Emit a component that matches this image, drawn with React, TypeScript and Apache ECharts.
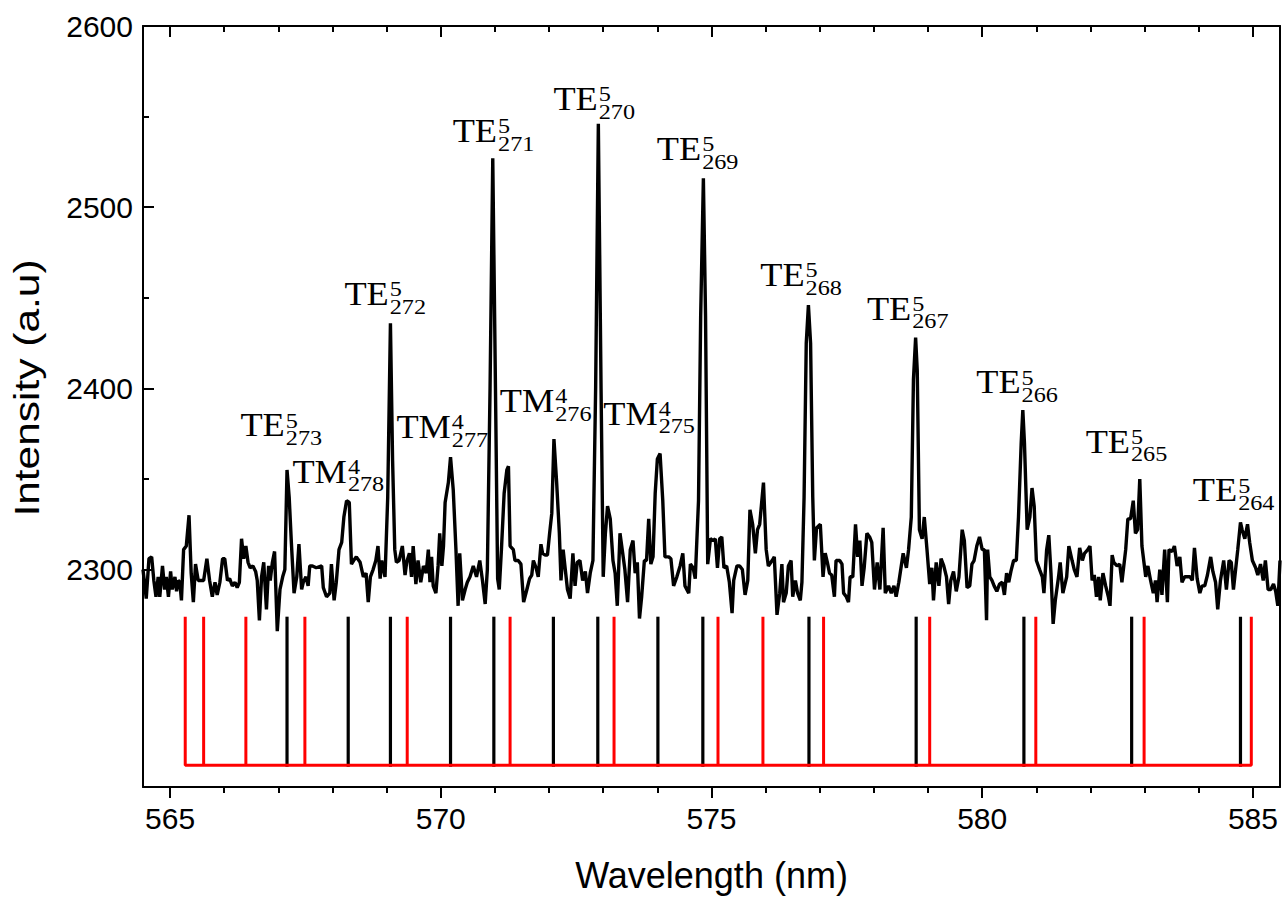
import React, { useEffect, useRef } from "react";
import * as echarts from "echarts";

// Measured spectrum: [wavelength (nm), intensity (a.u)]
const spectrum: [number, number][] = [
  [564.50,2300],[564.56,2284],[564.61,2306],[564.66,2307],[564.70,2294],[564.74,2285],[564.78,2296],[564.81,2285],[564.86,2302],[564.90,2289],
  [564.93,2296],[564.97,2285],[565.01,2299],[565.04,2289],[565.09,2296],[565.12,2288],[565.15,2294],[565.18,2293],[565.21,2283],[565.25,2311],
  [565.30,2313],[565.35,2330],[565.39,2298],[565.43,2282],[565.47,2303],[565.52,2294],[565.58,2294],[565.62,2294],[565.68,2306],[565.73,2294],
  [565.78,2285],[565.83,2293],[565.87,2286],[565.92,2293],[565.97,2306],[566.01,2306],[566.06,2294],[566.10,2295],[566.15,2291],[566.20,2293],
  [566.24,2290],[566.28,2293],[566.32,2317],[566.36,2306],[566.40,2313],[566.44,2304],[566.48,2301],[566.53,2302],[566.58,2299],[566.61,2294],
  [566.65,2272],[566.69,2296],[566.73,2304],[566.78,2278],[566.82,2302],[566.85,2294],[566.89,2304],[566.93,2310],[566.98,2266],[567.03,2289],
  [567.08,2296],[567.12,2300],[567.16,2355],[567.20,2340],[567.24,2315],[567.29,2287],[567.34,2296],[567.38,2314],[567.43,2289],[567.46,2293],
  [567.51,2296],[567.55,2291],[567.58,2302],[567.63,2302],[567.70,2301],[567.80,2302],[567.83,2290],[567.89,2285],[567.95,2287],[567.98,2303],
  [568.03,2283],[568.07,2293],[568.12,2311],[568.17,2315],[568.21,2329],[568.26,2338],[568.31,2337],[568.35,2303],[568.39,2305],[568.44,2307],
  [568.51,2304],[568.57,2296],[568.62,2298],[568.66,2282],[568.70,2296],[568.75,2300],[568.80,2305],[568.84,2313],[568.88,2295],[568.91,2305],
  [568.97,2296],[569.02,2340],[569.07,2436],[569.11,2360],[569.15,2311],[569.18,2304],[569.23,2305],[569.29,2313],[569.34,2297],[569.37,2304],
  [569.42,2309],[569.46,2296],[569.49,2313],[569.54,2292],[569.58,2305],[569.63,2293],[569.68,2302],[569.73,2298],[569.77,2311],[569.80,2293],
  [569.83,2307],[569.86,2291],[569.91,2287],[569.95,2302],[569.98,2320],[570.02,2302],[570.05,2313],[570.08,2337],[570.14,2348],[570.18,2362],
  [570.23,2344],[570.28,2311],[570.32,2280],[570.35,2309],[570.40,2283],[570.45,2289],[570.49,2293],[570.54,2296],[570.60,2302],[570.66,2296],
  [570.72,2305],[570.77,2294],[570.82,2281],[570.86,2300],[570.91,2400],[570.96,2527],[571.01,2400],[571.05,2295],[571.08,2289],[571.12,2311],
  [571.17,2342],[571.22,2355],[571.25,2357],[571.28,2313],[571.34,2311],[571.37,2305],[571.43,2305],[571.48,2303],[571.53,2282],[571.59,2289],
  [571.64,2295],[571.68,2297],[571.71,2305],[571.76,2301],[571.80,2296],[571.85,2314],[571.88,2309],[571.93,2308],[571.97,2308],[572.01,2320],
  [572.05,2331],[572.09,2372],[572.14,2348],[572.19,2320],[572.22,2294],[572.26,2311],[572.30,2300],[572.34,2289],[572.39,2284],[572.44,2309],
  [572.48,2291],[572.52,2304],[572.57,2305],[572.62,2294],[572.67,2299],[572.71,2287],[572.76,2298],[572.81,2305],[572.86,2400],[572.91,2546],
  [572.96,2400],[573.00,2296],[573.04,2320],[573.08,2335],[573.13,2328],[573.18,2305],[573.22,2298],[573.26,2280],[573.31,2320],[573.36,2309],
  [573.40,2300],[573.45,2282],[573.50,2311],[573.55,2316],[573.59,2298],[573.63,2304],[573.67,2273],[573.71,2285],[573.76,2305],[573.80,2305],
  [573.84,2328],[573.88,2303],[573.92,2307],[573.96,2342],[574.00,2361],[574.05,2364],[574.10,2338],[574.14,2307],[574.21,2307],[574.25,2306],
  [574.30,2291],[574.36,2296],[574.42,2302],[574.47,2309],[574.51,2291],[574.58,2287],[574.61,2303],[574.66,2301],[574.70,2295],[574.76,2338],
  [574.80,2440],[574.85,2516],[574.89,2440],[574.93,2303],[574.98,2317],[575.03,2316],[575.07,2317],[575.11,2301],[575.15,2317],[575.19,2318],
  [575.23,2301],[575.28,2302],[575.33,2293],[575.38,2276],[575.41,2294],[575.47,2302],[575.52,2302],[575.57,2300],[575.62,2286],[575.67,2294],
  [575.71,2333],[575.76,2325],[575.81,2309],[575.85,2322],[575.89,2325],[575.96,2348],[576.01,2311],[576.05,2302],[576.12,2305],[576.16,2307],
  [576.21,2275],[576.26,2287],[576.30,2303],[576.33,2282],[576.38,2287],[576.42,2302],[576.47,2305],[576.50,2285],[576.55,2294],[576.59,2287],
  [576.64,2283],[576.67,2293],[576.71,2340],[576.75,2425],[576.79,2446],[576.83,2425],[576.87,2340],[576.90,2305],[576.94,2323],[577.01,2325],
  [577.06,2296],[577.10,2309],[577.14,2304],[577.18,2298],[577.22,2297],[577.27,2285],[577.30,2305],[577.37,2305],[577.41,2303],[577.44,2287],
  [577.49,2285],[577.53,2282],[577.56,2296],[577.61,2296],[577.66,2325],[577.70,2307],[577.74,2316],[577.78,2291],[577.82,2301],[577.87,2320],
  [577.92,2318],[577.96,2315],[578.01,2289],[578.06,2304],[578.11,2289],[578.17,2323],[578.21,2287],[578.27,2291],[578.32,2287],[578.37,2291],
  [578.41,2285],[578.46,2293],[578.54,2309],[578.60,2301],[578.64,2311],[578.69,2329],[578.73,2405],[578.77,2428],[578.80,2410],[578.84,2322],
  [578.89,2317],[578.93,2329],[578.98,2311],[579.03,2292],[579.07,2301],[579.10,2283],[579.15,2304],[579.20,2291],[579.24,2306],[579.29,2302],
  [579.34,2296],[579.38,2281],[579.42,2294],[579.47,2299],[579.52,2288],[579.57,2296],[579.63,2322],[579.67,2316],[579.72,2290],[579.77,2291],
  [579.81,2303],[579.85,2305],[579.90,2313],[579.95,2318],[580.00,2311],[580.04,2311],[580.08,2272],[580.10,2311],[580.14,2296],[580.18,2294],
  [580.22,2291],[580.27,2288],[580.32,2292],[580.37,2293],[580.41,2286],[580.45,2298],[580.49,2293],[580.53,2299],[580.58,2305],[580.63,2305],
  [580.67,2329],[580.72,2370],[580.75,2388],[580.78,2370],[580.83,2322],[580.88,2329],[580.92,2345],[580.96,2335],[581.00,2305],[581.06,2300],
  [581.11,2296],[581.14,2287],[581.19,2311],[581.23,2319],[581.27,2298],[581.31,2270],[581.35,2283],[581.41,2296],[581.44,2304],[581.49,2287],
  [581.56,2296],[581.60,2313],[581.66,2305],[581.70,2300],[581.75,2296],[581.80,2312],[581.85,2305],[581.89,2309],[581.95,2311],[581.99,2313],
  [582.03,2294],[582.07,2297],[582.11,2285],[582.15,2296],[582.18,2283],[582.23,2298],[582.28,2291],[582.33,2285],[582.36,2280],[582.40,2308],
  [582.43,2304],[582.49,2302],[582.54,2303],[582.58,2293],[582.65,2311],[582.69,2328],[582.74,2328],[582.79,2338],[582.83,2320],[582.87,2322],
  [582.91,2350],[582.95,2313],[583.02,2296],[583.06,2302],[583.11,2294],[583.16,2287],[583.20,2294],[583.23,2282],[583.28,2300],[583.32,2286],
  [583.37,2311],[583.42,2282],[583.45,2311],[583.51,2310],[583.55,2313],[583.60,2302],[583.65,2307],[583.69,2293],[583.74,2296],[583.79,2296],
  [583.84,2296],[583.88,2294],[583.92,2312],[583.97,2295],[584.02,2287],[584.06,2291],[584.11,2291],[584.16,2297],[584.22,2307],[584.26,2299],
  [584.31,2293],[584.35,2278],[584.40,2294],[584.46,2305],[584.51,2289],[584.56,2305],[584.60,2304],[584.64,2289],[584.68,2300],[584.72,2311],
  [584.77,2326],[584.80,2322],[584.85,2317],[584.90,2325],[584.94,2315],[584.99,2305],[585.05,2301],[585.09,2297],[585.14,2303],[585.19,2294],
  [585.23,2305],[585.28,2289],[585.33,2289],[585.38,2292],[585.42,2288],[585.46,2280],[585.50,2305],
];

// Calculated mode positions (nm)
const blackSticks = [567.16, 568.29, 569.07, 570.18, 570.98, 572.08, 572.90, 574.01, 574.84, 576.80, 578.78, 580.77, 582.76, 584.77];
const redSticks = [565.28, 565.62, 566.40, 567.49, 569.38, 571.28, 573.20, 575.12, 575.95, 577.07, 579.03, 580.99, 582.99, 584.97];
const stickBase = 2192;
const stickTop = 2274;

// Peak annotations (anchor: left edge of the mode name, middle of its capitals)
const labelMode = ["TE", "TM", "TE", "TM", "TE", "TM", "TE", "TM", "TE", "TE", "TE", "TE", "TE", "TE"];
const labelOrder = ["5", "4", "5", "4", "5", "4", "5", "4", "5", "5", "5", "5", "5", "5"];
const labelIndex = ["273", "278", "272", "277", "271", "276", "270", "275", "269", "268", "267", "266", "265", "264"];
const labelX = [566.30, 567.26, 568.22, 569.18, 570.22, 571.09, 572.08, 573.00, 573.99, 575.90, 577.87, 579.89, 581.91, 583.89];
const labelY = [2379.5, 2354, 2452, 2378.7, 2542, 2393, 2559.6, 2386, 2532, 2462.6, 2443.9, 2403.3, 2370.5, 2343.7];

// Axis ticks and titles
const xMajor = [565, 570, 575, 580, 585];
const xMinor = [566, 567, 568, 569, 571, 572, 573, 574, 576, 577, 578, 579, 581, 582, 583, 584];
const yMajor = [2300, 2400, 2500, 2600];
const yMinor = [2350, 2450, 2550];
const xRange = [564.5, 585.5];
const yRange = [2180, 2600];
const xTitle = "Wavelength (nm)";
const yTitle = "Intensity (a.u)";

const SANS = '"Liberation Sans", Arial, Helvetica, sans-serif';
const SERIF = '"Liberation Serif", "Times New Roman", serif';
const MAIN_SIZE = 33;
const SCRIPT_SIZE = 22;
const STRETCH = 1.1;

let measureCtx: CanvasRenderingContext2D | null = null;
function textWidth(s: string, size: number): number {
  if (!measureCtx) {
    const c = document.createElement("canvas");
    measureCtx = c.getContext("2d");
  }
  if (!measureCtx) return s.length * size * 0.6;
  measureCtx.font = `${size}px ${SERIF}`;
  return measureCtx.measureText(s).width;
}

export default function App() {
  const ref = useRef<HTMLDivElement>(null);

  useEffect(() => {
    if (!ref.current) return;
    const chart = echarts.init(ref.current, null, { renderer: "svg" });

    const redComb: [number, number][] = [];
    redSticks.forEach((x) => {
      redComb.push([x, stickBase], [x, stickTop], [x, stickBase]);
    });

    const tickLine = { color: "#000", width: 2 };
    const baseX = { type: "value", min: xRange[0], max: xRange[1], splitLine: { show: false } };
    const baseY = { type: "value", min: yRange[0], max: yRange[1], splitLine: { show: false } };

    const option: any = {
      animation: false,
      backgroundColor: "#fff",
      grid: { left: 143, right: 8, top: 26, bottom: 110, containLabel: false, outerBoundsMode: "none" },
      graphic: [
        {
          type: "text",
          x: 26.5,
          y: 388,
          rotation: Math.PI / 2,
          scaleX: 1.18,
          silent: true,
          style: {
            text: yTitle, fontFamily: SANS, fontSize: 36, fill: "#000",
            align: "center", verticalAlign: "middle", textAlign: "center", textVerticalAlign: "middle",
          },
        },
      ],
      xAxis: [
        {
          ...baseX,
          position: "bottom",
          axisLine: { show: true, onZero: false, lineStyle: tickLine },
          axisTick: { show: true, inside: false, length: 11, lineStyle: tickLine, customValues: xMajor },
          axisLabel: {
            show: true, customValues: xMajor, margin: 16, fontFamily: SANS, fontSize: 30, color: "#000",
            formatter: (v: number) => String(v),
          },
          name: xTitle,
          nameLocation: "middle",
          nameGap: 70,
          nameTextStyle: { fontFamily: SANS, fontSize: 36, color: "#000" },
        },
        {
          ...baseX,
          position: "bottom",
          axisLine: { show: false, onZero: false },
          axisTick: { show: true, inside: false, length: 6, lineStyle: tickLine, customValues: xMinor },
          axisLabel: { show: false },
        },
        {
          ...baseX,
          position: "top",
          axisLine: { show: true, onZero: false, lineStyle: tickLine },
          axisTick: { show: true, inside: true, length: 11, lineStyle: tickLine, customValues: xMajor },
          axisLabel: { show: false },
        },
        {
          ...baseX,
          position: "top",
          axisLine: { show: false, onZero: false },
          axisTick: { show: true, inside: true, length: 6, lineStyle: tickLine, customValues: xMinor },
          axisLabel: { show: false },
        },
      ],
      yAxis: [
        {
          ...baseY,
          position: "left",
          axisLine: { show: true, onZero: false, lineStyle: tickLine },
          axisTick: { show: true, inside: true, length: 11, lineStyle: tickLine, customValues: yMajor },
          axisLabel: {
            show: true, customValues: yMajor, margin: 10, fontFamily: SANS, fontSize: 30, color: "#000",
            formatter: (v: number) => String(v),
          },
        },
        {
          ...baseY,
          position: "left",
          axisLine: { show: false, onZero: false },
          axisTick: { show: true, inside: true, length: 6, lineStyle: tickLine, customValues: yMinor },
          axisLabel: { show: false },
        },
        {
          ...baseY,
          position: "right",
          axisLine: { show: true, onZero: false, lineStyle: tickLine },
          axisTick: { show: false },
          axisLabel: { show: false },
        },
      ],
      series: [
        {
          type: "line",
          name: "red modes",
          data: redComb,
          xAxisIndex: 0,
          yAxisIndex: 0,
          symbol: "none",
          showSymbol: false,
          lineStyle: { color: "#ff0000", width: 3 },
          itemStyle: { color: "#ff0000" },
          z: 2,
          silent: true,
        },
        {
          type: "custom",
          name: "black modes",
          data: blackSticks.map((x) => [x, stickTop]),
          xAxisIndex: 0,
          yAxisIndex: 0,
          z: 2,
          silent: true,
          renderItem: (params: any, api: any) => {
            const x = api.value(0);
            const a = api.coord([x, stickBase]);
            const b = api.coord([x, stickTop]);
            return {
              type: "line",
              shape: { x1: a[0], y1: a[1] + 1.5, x2: b[0], y2: b[1] },
              style: { stroke: "#000", lineWidth: 3.2 },
            };
          },
        },
        {
          type: "line",
          name: "spectrum",
          data: spectrum,
          xAxisIndex: 0,
          yAxisIndex: 0,
          symbol: "none",
          showSymbol: false,
          lineStyle: { color: "#000", width: 3.4 },
          itemStyle: { color: "#000" },
          z: 3,
          silent: true,
        },
        {
          type: "custom",
          name: "labels",
          data: labelX.map((x, i) => [x, labelY[i]]),
          xAxisIndex: 0,
          yAxisIndex: 0,
          z: 5,
          silent: true,
          clip: false,
          renderItem: (params: any, api: any) => {
            const i = params.dataIndex;
            const p = api.coord([api.value(0), api.value(1)]);
            const w = textWidth(labelMode[i], MAIN_SIZE) * STRETCH;
            const sx = p[0] + w + 1;
            return {
              type: "group",
              children: [
                {
                  type: "text",
                  x: p[0],
                  y: p[1],
                  scaleX: STRETCH,
                  style: {
                    text: labelMode[i], fontSize: MAIN_SIZE, fontFamily: SERIF, fill: "#000",
                    lineHeight: 26,
                    align: "left", verticalAlign: "middle", textAlign: "left", textVerticalAlign: "middle",
                  },
                },
                {
                  type: "text",
                  x: sx,
                  y: p[1] + 3.25,
                  scaleX: STRETCH,
                  style: {
                    text: labelOrder[i] + "\n" + labelIndex[i], fontSize: SCRIPT_SIZE, fontFamily: SERIF, fill: "#000",
                    lineHeight: 17.5,
                    align: "left", verticalAlign: "middle", textAlign: "left", textVerticalAlign: "middle",
                  },
                },
              ],
            };
          },
        },
      ],
    };

    chart.setOption(option);
    return () => chart.dispose();
  }, []);

  return (
    <div
      ref={ref}
      style={{ position: "absolute", left: 0, top: 0, width: 1288, height: 897, background: "#fff" }}
    />
  );
}
